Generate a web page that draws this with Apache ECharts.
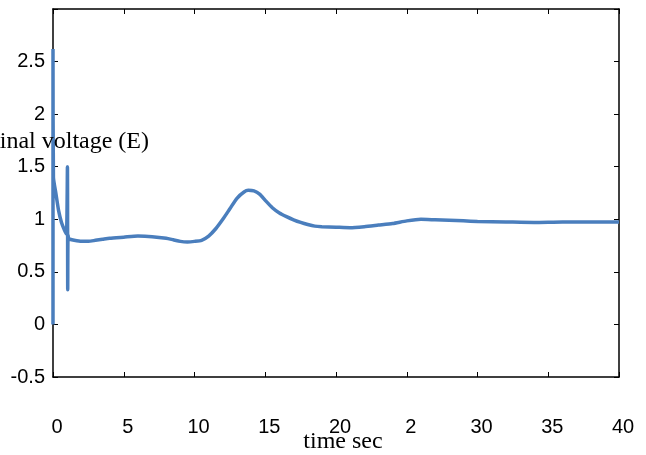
<!DOCTYPE html>
<html>
<head>
<meta charset="utf-8">
<script src="https://cdn.jsdelivr.net/npm/echarts@6/dist/echarts.min.js"></script>
<style>
html,body{margin:0;padding:0;background:#fff;}
#chart{width:646px;height:455px;}
</style>
</head>
<body>
<div id="chart"></div>
<script>
// time (s)
var timeSec = [0, 0, 0.03, 0.2, 0.4, 0.6, 0.8, 0.95, 1.02, 1.04, 1.06, 1.1, 1.2, 1.5, 2.0, 2.5, 3, 3.5, 4, 5, 6, 7, 8, 8.5, 9, 9.5, 10, 10.5, 11, 11.5, 12, 12.5, 13, 13.5, 13.8, 14.2, 14.6, 15, 15.5, 16, 16.5, 17, 17.5, 18, 18.5, 19, 20, 21, 22, 23, 24, 25, 26, 27, 28, 29, 30, 32, 34, 36, 38, 40];
// terminal voltage (E)
var voltage = [0, 2.62, 1.4, 1.25, 1.08, 0.97, 0.9, 0.86, 1.5, 0.33, 0.85, 0.82, 0.81, 0.8, 0.79, 0.79, 0.8, 0.81, 0.82, 0.83, 0.84, 0.835, 0.82, 0.805, 0.79, 0.785, 0.79, 0.8, 0.84, 0.91, 1.0, 1.1, 1.2, 1.26, 1.275, 1.27, 1.24, 1.18, 1.11, 1.06, 1.025, 0.995, 0.97, 0.95, 0.935, 0.93, 0.925, 0.92, 0.93, 0.945, 0.96, 0.985, 1.0, 0.995, 0.99, 0.985, 0.98, 0.975, 0.97, 0.975, 0.975, 0.975];
var xTickLabels = ['0', '5', '10', '15', '20', '2', '30', '35', '40'];
var yTickLabels = ['-0.5', '0', '0.5', '1', '1.5', '2', '2.5', ''];
var xTitle = 'time sec';
var yTitle = 'Terminal voltage (E)';

var points = timeSec.map(function (t, i) { return [t, voltage[i]]; });

var chart = echarts.init(document.getElementById('chart'));
var axisLine = { show: true, onZero: false, lineStyle: { color: '#000', width: 1.5 } };
var tick = { show: true, inside: true, length: 5, lineStyle: { color: '#000', width: 1 } };
chart.setOption({
  animation: false,
  backgroundColor: '#fff',
  grid: { left: 53, top: 9, right: 27, bottom: 78, containLabel: false, outerBoundsMode: 'none' },
  xAxis: [{
    type: 'value', min: 0, max: 40, interval: 5, position: 'bottom',
    axisLine: axisLine, axisTick: tick, splitLine: { show: false },
    axisLabel: {
      margin: 40, color: '#000', fontFamily: 'Liberation Sans, Arial', fontSize: 20,
      padding: [0, 0, 0, 8],
      formatter: function (v) { return xTickLabels[Math.round(v / 5)]; }
    },
    name: xTitle, nameLocation: 'middle', nameGap: 53, nameMoveOverlap: false,
    nameTextStyle: { color: '#000', fontFamily: 'Liberation Serif, Times New Roman', fontSize: 24, padding: [0, 0, 0, 14] }
  }, {
    type: 'value', min: 0, max: 40, interval: 5, position: 'top',
    axisLine: axisLine, axisTick: tick, splitLine: { show: false }, axisLabel: { show: false }
  }],
  yAxis: [{
    type: 'value', min: -0.5, max: 3, interval: 0.5, position: 'left',
    axisLine: axisLine, axisTick: tick, splitLine: { show: false },
    axisLabel: {
      margin: 8, color: '#000', fontFamily: 'Liberation Sans, Arial', fontSize: 20,
      padding: [3, 0, 0, 0],
      formatter: function (v) { return yTickLabels[Math.round((v + 0.5) / 0.5)]; }
    }
  }, {
    type: 'value', min: -0.5, max: 3, interval: 0.5, position: 'right',
    axisLine: axisLine, axisTick: tick, splitLine: { show: false }, axisLabel: { show: false }
  }],
  graphic: [{
    type: 'text', right: 646 - 149, top: 130, z: 100,
    style: { text: yTitle, fill: '#000', font: '24px "Liberation Serif", "Times New Roman", serif', textAlign: 'right' }
  }],
  series: [{
    type: 'line', data: points, showSymbol: false, smooth: 0.2,
    lineStyle: { color: '#4a7ebd', width: 3.5 }, z: 5
  }]
});
</script>
</body>
</html>
